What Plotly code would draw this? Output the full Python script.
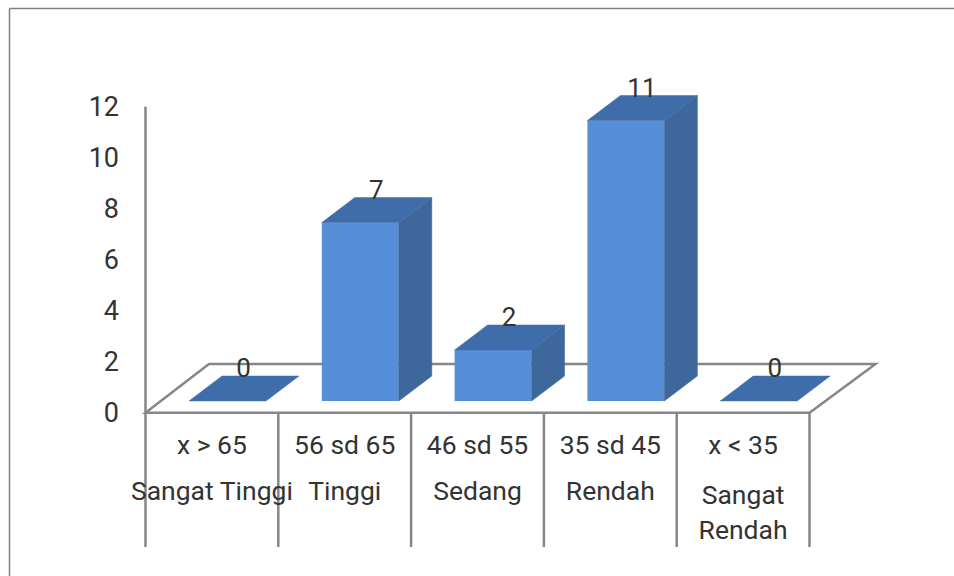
import plotly.graph_objects as go

# Frequency of scores per category
ranges = ["x > 65", "56 sd 65", "46 sd 55", "35 sd 45", "x < 35"]
classes = [["Sangat Tinggi"], ["Tinggi"], ["Sedang"], ["Rendah"], ["Sangat", "Rendah"]]
counts = [0, 7, 2, 11, 0]
y_ticks = [0, 2, 4, 6, 8, 10, 12]

# Axis scales: pixels per unit and the pixel position of the origin
W, H = 954, 576
X0_PX, Y0_PX = 145.5, 412.7
PX_X, PX_Y = 132.8, 25.5
LEFT = 120

FRONT = "#568FD8"
TOP = "#3E6DA9"
SIDE = "#3E689C"
LINE = "#868686"
TEXT = "#333333"
FONT = "Roboto"

# Oblique projection: how far the depth direction shifts a point, in axis units
BAR_DX, BAR_DY = 33 / PX_X, 25 / PX_Y
FLOOR_DX_L, FLOOR_DX_R, FLOOR_DY = 63.5 / PX_X, 66 / PX_X, 48.7 / PX_Y
BASE = 11.7 / PX_Y      # bars stand slightly behind the front edge of the floor
BAR_W = 77 / PX_X
BAR_C = 82 / PX_X       # bar centre inside its category slot

n = len(counts)
fig = go.Figure()


def polygon(xs, ys, color):
    fig.add_trace(go.Scatter(
        x=xs, y=ys, mode="lines", fill="toself", fillcolor=color,
        line=dict(color=color, width=0.5),
        hoverinfo="skip", showlegend=False))


def segment(xs, ys):
    fig.add_trace(go.Scatter(
        x=xs, y=ys, mode="lines", line=dict(color=LINE, width=2.5),
        hoverinfo="skip", showlegend=False))


# Value axis and category separators running below the floor
BOTTOM = (Y0_PX - 547) / PX_Y
segment([0, 0], [y_ticks[-1], BOTTOM])
for i in range(1, n + 1):
    segment([i, i], [0, BOTTOM])

# Side and top faces of each bar
for i, v in enumerate(counts):
    l = i + BAR_C - BAR_W / 2
    r = l + BAR_W
    t = BASE + v
    if v > 0:
        polygon([r, r + BAR_DX, r + BAR_DX, r, r],
                [BASE, BASE + BAR_DY, t + BAR_DY, t, BASE], SIDE)
    polygon([l, r, r + BAR_DX, l + BAR_DX, l],
            [t, t, t + BAR_DY, t + BAR_DY, t], TOP)

# Front faces
fig.add_trace(go.Bar(
    x=[i + BAR_C for i in range(n)], y=counts, base=BASE, width=BAR_W,
    marker=dict(color=FRONT, line=dict(width=0)),
    hoverinfo="skip", showlegend=False))

# Value labels above each bar
fig.add_trace(go.Scatter(
    x=[i + BAR_C + 16 / PX_X for i in range(n)],
    y=[BASE + v + 30.5 / PX_Y for v in counts],
    mode="text", text=[str(v) for v in counts], textposition="middle center",
    textfont=dict(family=FONT, size=26, color=TEXT),
    hoverinfo="skip", showlegend=False))

# Category labels: score range, then class name
label_x, label_y, label_t = [], [], []
for i in range(n):
    label_x.append(i + 0.5)
    label_y.append((Y0_PX - 447) / PX_Y)
    label_t.append(ranges[i])
    rows = classes[i]
    pixel_rows = [493.5] if len(rows) == 1 else [497.5, 532.5]
    for row, py in zip(rows, pixel_rows):
        label_x.append(i + 0.5)
        label_y.append((Y0_PX - py) / PX_Y)
        label_t.append(row)
fig.add_trace(go.Scatter(
    x=label_x, y=label_y, mode="text", text=label_t, textposition="middle center",
    textfont=dict(family=FONT, size=26.5, color=TEXT),
    hoverinfo="skip", showlegend=False))

# Floor parallelogram sits beneath every trace
corners = [(0, 0), (n, 0), (n + FLOOR_DX_R, FLOOR_DY), (FLOOR_DX_L, FLOOR_DY)]
floor_path = "M " + " L ".join(f"{x},{y}" for x, y in corners) + " Z"


def paper_x(px):
    return (px - LEFT) / (W - LEFT)


fig.update_layout(
    width=W, height=H,
    margin=dict(l=LEFT, r=0, t=0, b=0),
    plot_bgcolor="white", paper_bgcolor="white",
    showlegend=False,
    xaxis=dict(range=[(LEFT - X0_PX) / PX_X, (W - X0_PX) / PX_X],
               visible=False, fixedrange=True),
    yaxis=dict(range=[(Y0_PX - H) / PX_Y, Y0_PX / PX_Y],
               tickmode="array", tickvals=y_ticks, ticktext=[str(t) for t in y_ticks],
               ticks="", showgrid=False, zeroline=False, showline=False,
               tickfont=dict(family=FONT, size=27, color=TEXT), fixedrange=True),
    shapes=[
        dict(type="path", xref="x", yref="y", path=floor_path, fillcolor="white",
             line=dict(color=LINE, width=2.5), layer="below"),
        # Frame along the top and left of the picture
        dict(type="line", xref="paper", yref="paper", x0=paper_x(9.5), x1=1,
             y0=(H - 8.5) / H, y1=(H - 8.5) / H,
             line=dict(color="#808080", width=1.5), layer="above"),
        dict(type="line", xref="paper", yref="paper", x0=paper_x(9.5), x1=paper_x(9.5),
             y0=0, y1=(H - 8.5) / H, line=dict(color="#808080", width=1.5), layer="above"),
    ],
)

fig.write_html("out.html")
